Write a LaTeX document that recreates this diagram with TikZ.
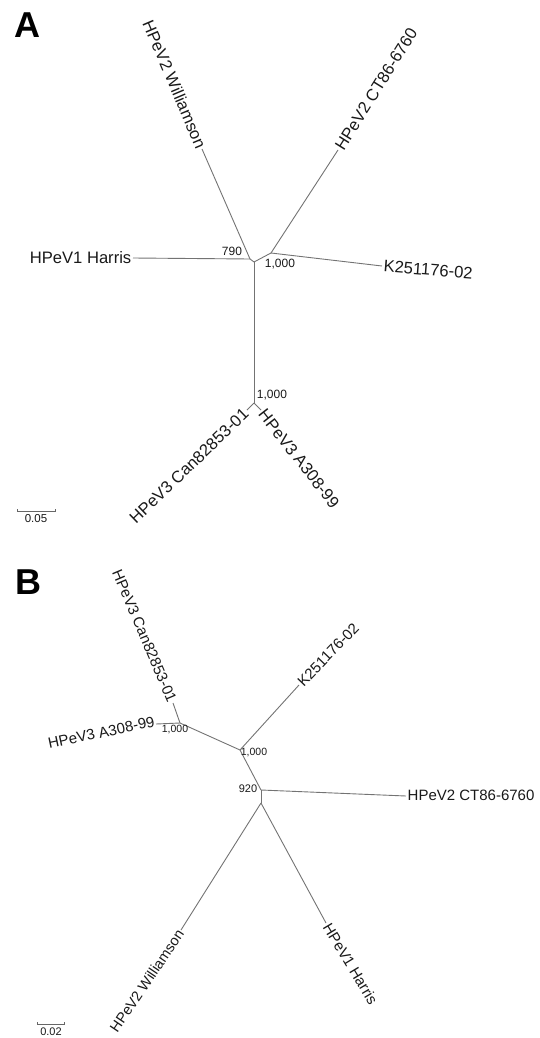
\documentclass[tikz,border=0pt]{standalone}
\usepackage{fontspec}
\setmainfont{Liberation Sans}
\begin{document}
\begin{tikzpicture}[x=1pt,y=-1pt,
  branch/.style={draw=black!55, line width=0.9pt},
  leafA/.style={inner sep=1.5pt, text=black!90, font=\fontsize{16.6}{18}\selectfont},
  leafB/.style={inner sep=1.5pt, text=black!90, font=\fontsize{15}{17}\selectfont},
  bootA/.style={inner sep=0pt, text=black!90, font=\fontsize{12}{13}\selectfont},
  bootB/.style={inner sep=0pt, text=black!90, font=\fontsize{10.5}{12}\selectfont},
  panel/.style={inner sep=0pt, font=\fontsize{36}{36}\bfseries\selectfont},
  scalebar/.style={draw=black!60, line width=0.8pt}]
\useasboundingbox (0,0) rectangle (540,1038);

% ---------------- Panel A ----------------
\node[panel] (labA) at (27,25) {A};
\coordinate (a1) at (250,259);
\coordinate (a0) at (254,262);
\coordinate (a2) at (271,253);
\coordinate (a3) at (254,403);
\coordinate (aHar) at (133,258);
\coordinate (aWil) at (202,149);
\coordinate (aCT) at (338,150);
\coordinate (aK) at (382,266);
\coordinate (aCan) at (247,410);
\coordinate (aA308) at (261,410);

\draw[branch] (aHar) -- (a1);
\draw[branch] (aWil) -- (a1);
\draw[branch] (a1) -- (a0);
\draw[branch] (a0) -- (a2);
\draw[branch] (a2) -- (aCT);
\draw[branch] (a2) -- (aK);
\draw[branch] (a0) -- (a3);
\draw[branch] (a3) -- (aCan);
\draw[branch] (a3) -- (aA308);

\node[leafA, anchor=east] (tHarA) at (aHar) {HPeV1 Harris};
\node[leafA, anchor=east, rotate=-67] (tWilA) at (aWil) {HPeV2 Williamson};
\node[leafA, anchor=west, rotate=58] (tCTA) at (aCT) {HPeV2 CT86-6760};
\node[leafA, anchor=west, rotate=-4.5] (tKA) at (aK) {K251176-02};
\node[leafA, anchor=east, rotate=44] (tCanA) at (aCan) {HPeV3 Can82853-01};
\node[leafA, anchor=west, rotate=-52] (tA308A) at (aA308) {HPeV3 A308-99};

\node[bootA] (b790) at (232,251) {790};
\node[bootA] (b1000a) at (280,264) {1,000};
\node[bootA] (b1000b) at (272,395) {1,000};

\coordinate (sa1) at (17,511);
\coordinate (sa2) at (55,511);
\draw[scalebar] (sa1) ++(0,-2) -- (sa1) -- (sa2) -- ++(0,-2);
\node[bootA, font=\fontsize{11.5}{12}\selectfont] (sclA) at (36,519) {0.05};

% ---------------- Panel B ----------------
\node[panel] (labB) at (28,582) {B};
\coordinate (b1) at (180,723);
\coordinate (b2) at (240,750);
\coordinate (b3) at (261,790);
\coordinate (b4) at (261,803);
\coordinate (bCan) at (173,703);
\coordinate (bA308) at (156,724);
\coordinate (bK) at (299,685);
\coordinate (bCT) at (406,796);
\coordinate (bWil) at (181,930);
\coordinate (bHar) at (326,923);

\draw[branch] (bCan) -- (b1);
\draw[branch] (bA308) -- (b1);
\draw[branch] (b1) -- (b2);
\draw[branch] (b2) -- (bK);
\draw[branch] (b2) -- (b3);
\draw[branch] (b3) -- (bCT);
\draw[branch] (b3) -- (b4);
\draw[branch] (b4) -- (bWil);
\draw[branch] (b4) -- (bHar);

\node[leafB, anchor=east, rotate=-67] (tCanB) at (bCan) {HPeV3 Can82853-01};
\node[leafB, anchor=east, rotate=12] (tA308B) at ([yshift=3]bA308) {HPeV3 A308-99};
\node[leafB, anchor=west, rotate=46] (tKB) at (bK) {K251176-02};
\node[leafB, anchor=west] (tCTB) at ([yshift=1]bCT) {HPeV2 CT86-6760};
\node[leafB, anchor=east, rotate=56, inner sep=1pt, font=\fontsize{14.5}{16}\selectfont] (tWilB) at (bWil) {HPeV2 Williamson};
\node[leafB, anchor=west, rotate=-59] (tHarB) at (bHar) {HPeV1 Harris};

\node[bootB] (c1000a) at (175,729) {1,000};
\node[bootB] (c1000b) at (254,752) {1,000};
\node[bootB, font=\fontsize{11}{12}\selectfont] (c920) at (248,789) {920};

\coordinate (sb1) at (37,1024);
\coordinate (sb2) at (64,1024);
\draw[scalebar] (sb1) ++(0,-2) -- (sb1) -- (sb2) -- ++(0,-2);
\node[bootB, font=\fontsize{11}{12}\selectfont] (sclB) at (51,1032) {0.02};
\end{tikzpicture}
\end{document}
